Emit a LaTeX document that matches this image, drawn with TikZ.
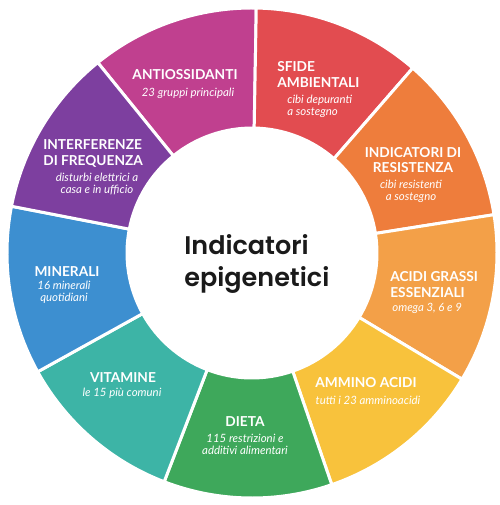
\documentclass[tikz,border=0pt]{standalone}
\usepackage{fontspec}
\setmainfont{Lato}
\newfontfamily\hubfont{Poppins SemiBold}
\usetikzlibrary{positioning}
\definecolor{antiox}{HTML}{C0408F}
\definecolor{sfide}{HTML}{E24C50}
\definecolor{resist}{HTML}{EE7D3C}
\definecolor{acidi}{HTML}{F3A048}
\definecolor{ammino}{HTML}{F8C23C}
\definecolor{dieta}{HTML}{3EA85B}
\definecolor{vitam}{HTML}{3DB4A6}
\definecolor{miner}{HTML}{3D8FD0}
\definecolor{interf}{HTML}{7D3F9F}
\definecolor{hubtext}{HTML}{1A1A1A}
\tikzset{
  sector/.style={fill=#1, draw=white, line width=1.7pt},
  segtitle/.style={text=white, font=\bfseries\fontsize{7.8}{8.9}\selectfont, inner sep=0pt, align=center},
  segnote/.style={text=white, font=\itshape\fontsize{6.5}{6.9}\selectfont, inner sep=0pt, align=center},
  hubtext/.style={text=hubtext, font=\hubfont\fontsize{14.5}{18.1}\selectfont, inner sep=0pt, align=left}
}
\begin{document}
\begin{tikzpicture}[x=0.02cm, y=0.02cm]
\useasboundingbox (0,0) rectangle (500,505);
\coordinate (c) at (252,252);
% the nine sectors of the wheel
\begin{scope}[shift={(c)}]
\foreach \a/\col in {89/antiox, 49/sfide, 9/resist, -31/acidi, -71/ammino,
                     -111/dieta, -151/vitam, -191/miner, 129/interf}
  \filldraw[sector=\col] (\a:125) arc[start angle=\a, delta angle=40, radius=125]
    -- (\a+40:245) arc[start angle=\a+40, delta angle=-40, radius=245] -- cycle;
\end{scope}
% labels
\node[segtitle] (antiT) at (185,430) {ANTIOSSIDANTI};
\node[segnote] (antiS) at (188,412) {23 gruppi principali};
\node[segtitle, anchor=west, align=left] (sfideT) at (277,430.5) {SFIDE\\AMBIENTALI};
\node[segnote, anchor=west, align=left] (sfideS) at (287,399) {cibi depuranti\\a sostegno};
\node[segtitle] (resistT) at (413,345) {INDICATORI DI\\RESISTENZA};
\node[segnote] (resistS) at (411,314) {cibi resistenti\\a sostegno};
\node[segtitle, anchor=west, align=left] (acidiT) at (390,220.5) {ACIDI GRASSI\\ESSENZIALI};
\node[segnote, anchor=west, align=left] (acidiS) at (392,197) {omega 3, 6 e 9};
\node[segtitle] (amminoT) at (366,122) {AMMINO ACIDI};
\node[segnote] (amminoS) at (368,105) {tutti i 23 amminoacidi};
\node[segtitle] (dietaT) at (245,83) {DIETA};
\node[segnote] (dietaS) at (245,61) {115 restrizioni e\\additivi alimentari};
\node[segtitle] (vitamT) at (123,127) {VITAMINE};
\node[segnote] (vitamS) at (122,112) {le 15 più comuni};
\node[segtitle] (minerT) at (67,233) {MINERALI};
\node[segnote] (minerS) at (64,212.5) {16 minerali\\quotidiani};
\node[segtitle, anchor=west, align=left] (interfT) at (43,351.5) {INTERFERENZE\\DI FREQUENZA};
\node[segnote] (interfS) at (97,321) {disturbi elettrici a\\casa e in ufficio};
% centre
\node[hubtext, anchor=north west] (hub) at (184,271) {Indicatori\\epigenetici};
\end{tikzpicture}
\end{document}
